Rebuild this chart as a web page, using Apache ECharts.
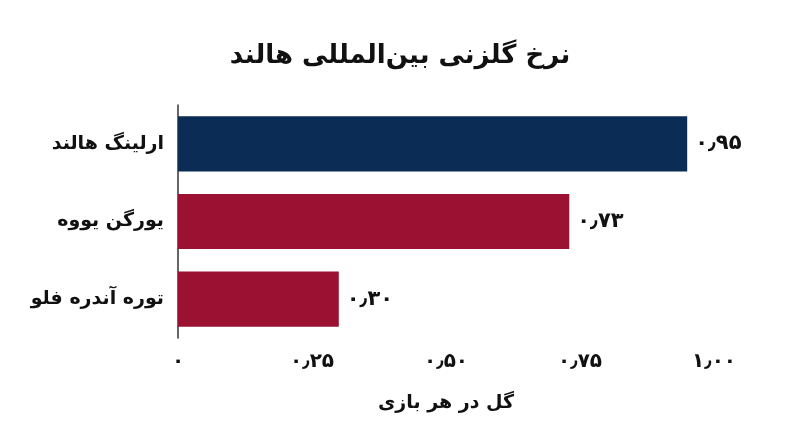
<!DOCTYPE html>
<html>
<head>
<meta charset="utf-8">
<script src="https://cdn.jsdelivr.net/npm/echarts@6/dist/echarts.min.js"></script>
<style>
  html, body { margin: 0; padding: 0; background: #fff; }
  #main { width: 800px; height: 447px; }
</style>
</head>
<body>
<div id="main"></div>
<script>
// داده‌ها
const players = ['ارلینگ هالند', 'یورگن یووه', 'توره آندره فلو'];
const goalsPerGame = [0.95, 0.73, 0.30];
const barColors = ['#0b2c55', '#9a1131', '#9a1131'];
const titleText = 'نرخ گلزنی بین‌المللی هالند';
const axisName = 'گل در هر بازی';

const faDigits = '۰۱۲۳۴۵۶۷۸۹';
function toFa(v, digits) {
    if (v === 0) return '۰';
    return v.toFixed(digits).replace('.', '٫').replace(/[0-9]/g, d => faDigits[+d]);
}

const font = 'DejaVu Sans';
const chart = echarts.init(document.getElementById('main'));

chart.setOption({
    animation: false,
    title: {
        text: titleText,
        left: 'center',
        top: 38,
        textStyle: { fontFamily: font, fontSize: 26, fontWeight: 'bold', color: '#111' }
    },
    grid: { left: 178, right: 86, top: 105, bottom: 109 },
    xAxis: {
        type: 'value',
        min: 0,
        max: 1,
        interval: 0.25,
        name: axisName,
        nameLocation: 'middle',
        nameGap: 56,
        nameTextStyle: { fontFamily: font, fontSize: 19, fontWeight: 'bold', color: '#111' },
        axisLine: { show: false },
        axisTick: { show: false },
        splitLine: { show: false },
        axisLabel: {
            margin: 14,
            fontFamily: font, fontSize: 20, fontWeight: 'bold', color: '#111',
            formatter: v => toFa(v, 2)
        }
    },
    yAxis: {
        type: 'category',
        inverse: true,
        data: players,
        axisLine: { show: true, lineStyle: { color: '#333', width: 1.5 } },
        axisTick: { show: false },
        axisLabel: {
            margin: 14,
            fontFamily: font, fontSize: 19, fontWeight: 'bold', color: '#111'
        }
    },
    series: [{
        type: 'bar',
        barCategoryGap: '29%',
        data: goalsPerGame.map((v, i) => ({ value: v, itemStyle: { color: barColors[i] } })),
        label: {
            show: true,
            position: 'right',
            distance: 8,
            fontFamily: font, fontSize: 21, fontWeight: 'bold', color: '#111',
            formatter: p => toFa(p.value, 2)
        }
    }]
});
</script>
</body>
</html>
